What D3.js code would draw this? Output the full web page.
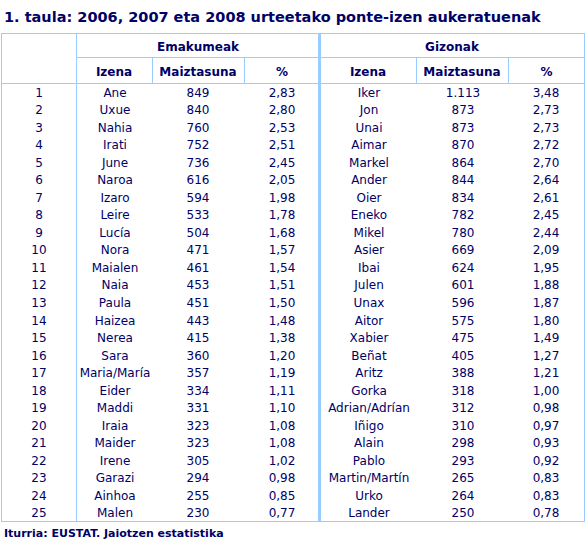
<!DOCTYPE html><html><head><meta charset="utf-8"><script src="https://cdn.jsdelivr.net/npm/d3@7"></script>
<style>body{margin:0;background:#fff}</style></head><body><svg id="c" width="587" height="543"></svg><script>
const ranks=d3.range(1,26);
const womenNames=["Ane","Uxue","Nahia","Irati","June","Naroa","Izaro","Leire","Lucía","Nora","Maialen","Naia","Paula","Haizea","Nerea","Sara","Maria/María","Eider","Maddi","Iraia","Maider","Irene","Garazi","Ainhoa","Malen"];
const womenFreq=["849","840","760","752","736","616","594","533","504","471","461","453","451","443","415","360","357","334","331","323","323","305","294","255","230"];
const womenPct=["2,83","2,80","2,53","2,51","2,45","2,05","1,98","1,78","1,68","1,57","1,54","1,51","1,50","1,48","1,38","1,20","1,19","1,11","1,10","1,08","1,08","1,02","0,98","0,85","0,77"];
const menNames=["Iker","Jon","Unai","Aimar","Markel","Ander","Oier","Eneko","Mikel","Asier","Ibai","Julen","Unax","Aitor","Xabier","Beñat","Aritz","Gorka","Adrian/Adrían","Iñigo","Alain","Pablo","Martin/Martín","Urko","Lander"];
const menFreq=["1.113","873","873","870","864","844","834","782","780","669","624","601","596","575","475","405","388","318","312","310","298","293","265","264","250"];
const menPct=["3,48","2,73","2,73","2,72","2,70","2,64","2,61","2,45","2,44","2,09","1,95","1,88","1,87","1,80","1,49","1,27","1,21","1,00","0,98","0,97","0,93","0,92","0,83","0,83","0,78"];
const subHeads=["Izena","Maiztasuna","%"];
const svg=d3.select("#c"),F="Verdana, 'DejaVu Sans', sans-serif",C="#000066",B="#99ccff";
svg.append("text").attr("x",4).attr("y",22).attr("font-family",F).attr("font-size",14.5).attr("font-weight","bold").attr("fill",C).text("1. taula: 2006, 2007 eta 2008 urteetako ponte-izen aukeratuenak");
const edges=[1,76,152,244,320,416,508,585];
const y=d3.scaleBand().domain(ranks).range([84,522]);
const line=(x1,y1,x2,y2,w=1)=>svg.append("line").attr("x1",x1).attr("y1",y1).attr("x2",x2).attr("y2",y2).attr("stroke",B).attr("stroke-width",w);
line(1,33.5,585,33.5);line(1,521.5,585,521.5);
line(76,57.5,585,57.5);line(1,83.5,585,83.5);
line(1.5,33,1.5,522);line(584.5,33,584.5,522);line(76.5,33,76.5,522);
line(319.5,33,319.5,522,3);
[152,244,416,508].forEach(x=>line(x+.5,57,x+.5,84));
const t=(x,yy,s,bold,size=12)=>svg.append("text").attr("x",x).attr("y",yy).attr("text-anchor","middle").attr("font-family",F).attr("font-size",size).attr("font-weight",bold?"bold":"normal").attr("fill",C).text(s);
t(198,51,"Emakumeak",true);t(452,51,"Gizonak",true);
for(let i=0;i<3;i++){t((edges[i+1]+edges[i+2])/2,76,subHeads[i],true);t((edges[i+4]+edges[i+5])/2,76,subHeads[i],true);}
const cols=[[ranks,39],[womenNames,115],[womenFreq,198],[womenPct,282],[menNames,369],[menFreq,463],[menPct,546]];
cols.forEach(([arr,x])=>arr.forEach((v,i)=>t(x,y(ranks[i])+y.bandwidth()/2+4,v,false)));
svg.append("text").attr("x",4).attr("y",537).attr("font-family",F).attr("font-size",11).attr("font-weight","bold").attr("fill",C).text("Iturria: EUSTAT. Jaiotzen estatistika");
</script></body></html>
